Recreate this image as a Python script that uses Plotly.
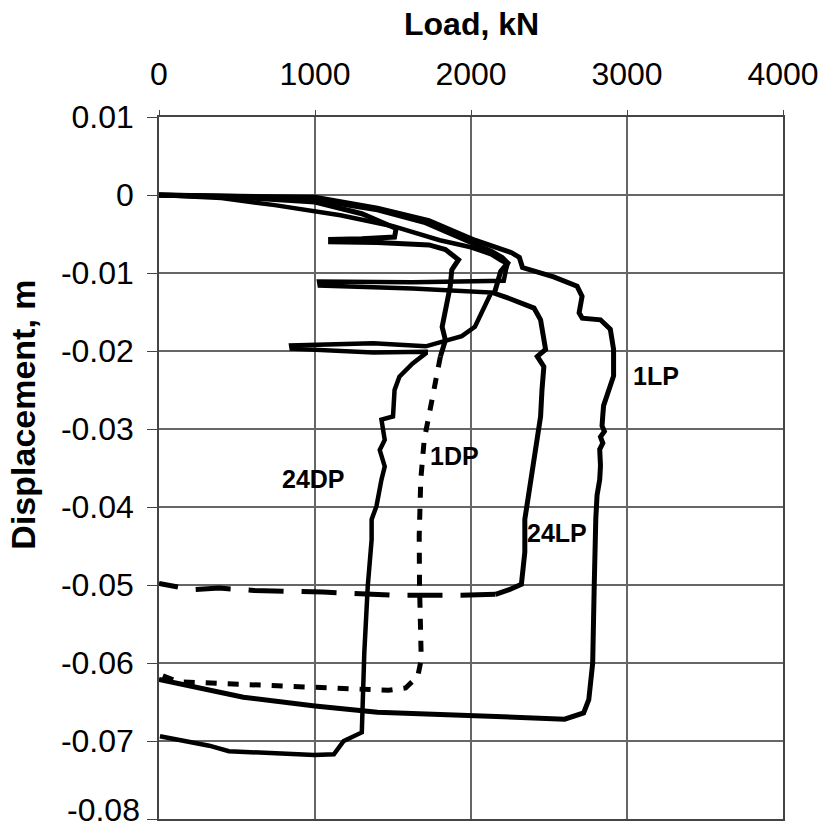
import plotly.graph_objects as go

# ---------------- data ----------------
x_ticks = [0, 1000, 2000, 3000, 4000]
x_tick_text = ["0", "1000", "2000", "3000", "4000"]
y_ticks = [0.01, 0, -0.01, -0.02, -0.03, -0.04, -0.05, -0.06, -0.07]
y_tick_text = ["0.01", "0", "-0.01", "-0.02", "-0.03", "-0.04", "-0.05", "-0.06", "-0.07"]
y_bottom_tick = -0.08
y_bottom_text = "-0.08"

lp1_load = [0, 500, 1000, 1400, 1730, 2025, 2150, 2260, 2310, 2330, 2530, 2680, 2712, 2693, 2713,
            2830, 2893, 2914, 2914, 2882, 2850, 2845, 2840, 2855, 2830, 2845, 2825, 2830, 2825, 2808,
            2800, 2790, 2785, 2780, 2755, 2722, 2600, 1700, 1400, 1000, 541, 0]
lp1_disp = [0, -0.0001, -0.0003, -0.0017, -0.0033, -0.0058, -0.0066, -0.0074, -0.0080, -0.0093,
            -0.0105, -0.0117, -0.0130, -0.0151, -0.0158, -0.0160, -0.0172, -0.0198, -0.0232, -0.0253,
            -0.0270, -0.0282, -0.0296, -0.0303, -0.0310, -0.0318, -0.0326, -0.0347, -0.0365, -0.0385,
            -0.0415, -0.0500, -0.0560, -0.0600, -0.0647, -0.0664, -0.0672, -0.0666, -0.0663, -0.0655,
            -0.0644, -0.0621]

lp24_load = [0, 500, 1000, 1400, 1700, 2000, 2130, 2200, 2235, 2190, 2172, 2150, 2250, 2341, 2404,
             2446, 2467, 2478, 2425, 2467, 2455, 2446, 2430, 2414, 2390, 2372, 2345, 2345, 2323, 2245,
             2157, 1936, 1493, 1050, 608, 386, 209, 0]
lp24_disp = [0, -0.0002, -0.0006, -0.0019, -0.0035, -0.0061, -0.0072, -0.0080, -0.0087, -0.0098,
             -0.0110, -0.0126, -0.0133, -0.0140, -0.0145, -0.0160, -0.0181, -0.0198, -0.0207, -0.0220,
             -0.0250, -0.0284, -0.0305, -0.0327, -0.0360, -0.0386, -0.0416, -0.0458, -0.0499, -0.0506,
             -0.0512, -0.0513, -0.0513, -0.0509, -0.0507, -0.0504, -0.0506, -0.0498]

dp1_load = [0, 500, 1000, 1300, 1520, 1510, 1300, 1100, 1100, 1400, 1731, 1836, 1920, 1877, 1867,
            1847, 1815, 1836, 1804, 1773, 1731, 1700, 1678, 1668, 1670, 1675, 1681, 1659, 1581, 1471,
            1073, 721, 497, 120, 9]
dp1_disp = [0, -0.0003, -0.0009, -0.0024, -0.0043, -0.0054, -0.0056, -0.0057, -0.0060, -0.0061,
            -0.0064, -0.0070, -0.0083, -0.0096, -0.0117, -0.0139, -0.0169, -0.0186, -0.0207, -0.0241,
            -0.0288, -0.0314, -0.0365, -0.0437, -0.0500, -0.0550, -0.0595, -0.0617, -0.0632, -0.0635,
            -0.0632, -0.0628, -0.0627, -0.0624, -0.0615]

dp24_load = [0, 400, 742, 1163, 1500, 1800, 2000, 2130, 2193, 2235, 2225, 2210, 1626, 1026, 1030,
             1626, 2130, 2088, 2025, 1941, 1815, 1710, 1373, 847, 850, 1373, 1710, 1710, 1626, 1541,
             1510, 1500, 1426, 1447, 1415, 1447, 1426, 1394, 1363, 1363, 1338, 1316, 1300, 1184, 1121,
             995, 448, 322, 6]
dp24_disp = [0, -0.0004, -0.0013, -0.0026, -0.0040, -0.0058, -0.0067, -0.0076, -0.0084, -0.0088,
             -0.0095, -0.0110, -0.0112, -0.0111, -0.0116, -0.0120, -0.0125, -0.0143, -0.0169, -0.0181,
             -0.0188, -0.0194, -0.0190, -0.0193, -0.0197, -0.0202, -0.0201, -0.0203, -0.0216, -0.0233,
             -0.0250, -0.0284, -0.0288, -0.0314, -0.0327, -0.0348, -0.0365, -0.0399, -0.0416, -0.0442,
             -0.0502, -0.0587, -0.0689, -0.0700, -0.0717, -0.0718, -0.0713, -0.0706, -0.0694]

labels = ["1LP", "24LP", "1DP", "24DP"]
label_load = [3186, 2549, 1893, 991]
label_disp = [-0.0232, -0.0433, -0.0334, -0.0364]

# index where the series change from dense (solid-looking) to sparse (dashed) drawing
lp24_split = 30
dp1_split = 18

FONT = "Liberation Sans, Arial, sans-serif"
LW = 5

fig = go.Figure()
fig.add_trace(go.Scatter(x=lp1_load, y=lp1_disp, mode="lines",
                         line=dict(color="black", width=LW)))
fig.add_trace(go.Scatter(x=lp24_load[:lp24_split + 1], y=lp24_disp[:lp24_split + 1], mode="lines",
                         line=dict(color="black", width=LW)))
fig.add_trace(go.Scatter(x=lp24_load[lp24_split:], y=lp24_disp[lp24_split:], mode="lines",
                         line=dict(color="black", width=LW, dash="35px,18px")))
fig.add_trace(go.Scatter(x=dp1_load[:dp1_split + 1], y=dp1_disp[:dp1_split + 1], mode="lines",
                         line=dict(color="black", width=LW)))
fig.add_trace(go.Scatter(x=dp1_load[dp1_split:], y=dp1_disp[dp1_split:], mode="lines",
                         line=dict(color="black", width=LW, dash="11px,11px")))
fig.add_trace(go.Scatter(x=dp24_load, y=dp24_disp, mode="lines",
                         line=dict(color="black", width=LW - 0.5)))

for t, xv, yv in zip(labels, label_load, label_disp):
    fig.add_annotation(x=xv, y=yv, text="<b>" + t + "</b>", showarrow=False,
                       font=dict(family=FONT, size=25, color="black"))

# bottom y tick label, lifted slightly so that it stays inside the page as in the reference
fig.add_annotation(xref="paper", yref="y", x=0, xshift=-17, xanchor="right", y=y_bottom_tick,
                   yshift=9, yanchor="middle", text=y_bottom_text, showarrow=False,
                   font=dict(family=FONT, size=32, color="black"))

fig.add_annotation(xref="paper", yref="paper", x=0.5, y=1, yshift=93, yanchor="middle",
                   text="<b>Load, kN</b>", showarrow=False,
                   font=dict(family=FONT, size=32, color="black"))
fig.add_annotation(xref="paper", yref="paper", x=0, xshift=-136, y=0.576, xanchor="center",
                   yanchor="middle", textangle=-90, text="<b>Displacement, m</b>", showarrow=False,
                   font=dict(family=FONT, size=34, color="black"))

fig.update_layout(
    width=831, height=833,
    margin=dict(l=159, r=38, t=117, b=13, pad=0),
    plot_bgcolor="white", paper_bgcolor="white",
    showlegend=False,
    font=dict(family=FONT, size=32, color="black"),
)
fig.update_xaxes(range=[0, 4000], side="top", tickvals=x_ticks, ticktext=x_tick_text,
                 showgrid=True, gridcolor="#666", gridwidth=1.5,
                 showline=True, linecolor="#444", linewidth=1.5, mirror=True,
                 ticks="outside", ticklen=5, tickcolor="#444", ticklabelstandoff=12,
                 zeroline=False)
fig.update_yaxes(range=[-0.08, 0.01], tickvals=y_ticks + [y_bottom_tick],
                 ticktext=y_tick_text + [""],
                 showgrid=True, gridcolor="#666", gridwidth=1.5,
                 showline=True, linecolor="#444", linewidth=1.5, mirror=True,
                 ticks="outside", ticklen=10, tickcolor="#444", ticklabelstandoff=7,
                 zeroline=False)

fig.write_html("out.html", config={"displayModeBar": False},
               post_script="document.body.style.margin='0';")
